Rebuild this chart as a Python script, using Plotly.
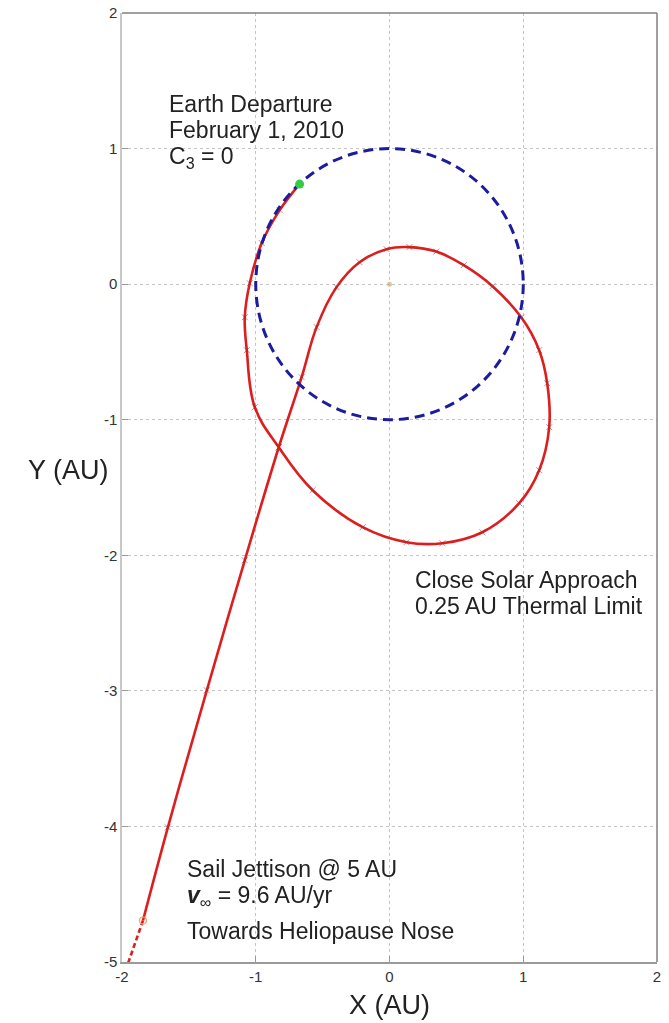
import plotly.graph_objects as go

# ---------------- data (AU) ----------------
traj_x = [-0.672, -0.821, -0.955, -1.045, -1.082, -1.067, -1.007, -0.828, -0.575,
          -0.201, 0.127, 0.396, 0.694, 0.970, 1.119, 1.194, 1.179, 1.119, 0.985,
          0.770, 0.555, 0.350, 0.149, -0.022, -0.224, -0.396, -0.545, -0.657,
          -0.828, -1.082, -1.366, -1.657, -1.843]
traj_y = [0.738, 0.546, 0.303, 0.007, -0.244, -0.487, -0.908, -1.203, -1.520,
          -1.793, -1.904, -1.911, -1.830, -1.616, -1.373, -1.055, -0.731, -0.487,
          -0.245, -0.015, 0.140, 0.240, 0.273, 0.258, 0.162, -0.022, -0.317, -0.686,
          -1.203, -2.037, -2.996, -4.007, -4.694]

coast_x = [-1.843, -1.955]
coast_y = [-4.694, -5.010]

earth_orbit_radius = 1.0
departure = (-0.672, 0.738)
jettison = (-1.843, -4.694)
sun = (0.0, 0.0)

x_ticks = [-2, -1, 0, 1, 2]
x_tick_labels = ["-2", "-1", "0", "1", "2"]
y_ticks = [-5, -4, -3, -2, -1, 0, 1, 2]
y_tick_labels = ["-5", "-4", "-3", "-2", "-1", "0", "1", "2"]

label_departure = ["Earth Departure", "February 1, 2010", "C<sub>3</sub> = 0"]
label_approach = ["Close Solar Approach", "0.25 AU Thermal Limit"]
label_jettison = ["Sail Jettison @ 5 AU", "<b><i>v</i></b><sub>∞</sub> = 9.6 AU/yr",
                  "Towards Heliopause Nose"]

# ---------------- figure ----------------
RED = "#dc1e1e"
BLUE = "#1c1c9e"
TXT = "#222222"
FONT = "Liberation Sans, Arial, sans-serif"

fig = go.Figure()

# Earth orbit (dashed circle)
fig.add_shape(type="circle", xref="x", yref="y",
              x0=-earth_orbit_radius, y0=-earth_orbit_radius,
              x1=earth_orbit_radius, y1=earth_orbit_radius,
              line=dict(color=BLUE, width=3, dash="10px,6px"), layer="above")

# trajectory
fig.add_trace(go.Scatter(x=traj_x, y=traj_y, mode="lines",
                         line=dict(color=RED, width=2.6, shape="spline", smoothing=1.1),
                         hoverinfo="skip", showlegend=False))
# time tick marks
fig.add_trace(go.Scatter(x=traj_x[1:-1], y=traj_y[1:-1], mode="markers",
                         marker=dict(symbol="x-thin", size=6,
                                     line=dict(color="#8a3030", width=1)),
                         opacity=0.55, hoverinfo="skip", showlegend=False))
# coast after jettison
fig.add_trace(go.Scatter(x=coast_x, y=coast_y, mode="lines",
                         line=dict(color=RED, width=2.6, dash="5px,3px"),
                         hoverinfo="skip", showlegend=False))
# sun
fig.add_trace(go.Scatter(x=[sun[0]], y=[sun[1]], mode="markers",
                         marker=dict(size=5, color="#d8b070", opacity=0.7),
                         hoverinfo="skip", showlegend=False))
# jettison point
fig.add_trace(go.Scatter(x=[jettison[0]], y=[jettison[1]], mode="markers",
                         marker=dict(size=7, symbol="circle-open",
                                     line=dict(color="#777777", width=1.2)),
                         hoverinfo="skip", showlegend=False))

# departure point (drawn above the orbit circle)
fig.add_shape(type="circle", xref="x", yref="y", xsizemode="pixel", ysizemode="pixel",
              xanchor=departure[0], yanchor=departure[1],
              x0=-4.5, x1=4.5, y0=-4.5, y1=4.5,
              fillcolor="#33cc44", line=dict(color="#33cc44", width=0), layer="above")

# text annotations (one per line)
def add_lines(lines, x, ys):
    for t, y in zip(lines, ys):
        fig.add_annotation(x=x, y=y, xref="x", yref="y", text=t, showarrow=False,
                           xanchor="left", yanchor="middle",
                           font=dict(family=FONT, size=23, color=TXT))

add_lines(label_departure, -1.664, [1.330, 1.135, 0.935])
add_lines(label_approach, 0.172, [-2.185, -2.375])
add_lines(label_jettison, -1.530, [-4.312, -4.515, -4.768])

# axis titles
fig.add_annotation(text="Y (AU)", x=(68 - 122) / 535, y=(962 - 470) / 949,
                   xref="paper", yref="paper", xanchor="center", yanchor="middle",
                   showarrow=False, font=dict(family=FONT, size=27, color=TXT))
fig.add_annotation(text="X (AU)", x=0.5, y=(962 - 1005) / 949,
                   xref="paper", yref="paper", xanchor="center", yanchor="middle",
                   showarrow=False, font=dict(family=FONT, size=27, color=TXT))

# frame: top & right darker lines
fig.add_shape(type="line", xref="paper", yref="paper", x0=0, x1=1, y0=1, y1=1,
              line=dict(color="#808080", width=1.5))
fig.add_shape(type="line", xref="paper", yref="paper", x0=1, x1=1, y0=0, y1=1,
              line=dict(color="#808080", width=1.5))

axis_common = dict(showgrid=True, gridcolor="#c4c4c4", griddash="dot", gridwidth=1,
                   zeroline=False, showline=True, ticks="inside", ticklen=6,
                   tickcolor="#999999", automargin=False,
                   tickfont=dict(family=FONT, size=15, color="#333333"))

fig.update_layout(
    width=669, height=1023,
    margin=dict(l=122, r=12, t=13, b=61),
    paper_bgcolor="white", plot_bgcolor="white",
    xaxis=dict(range=[-2, 2], tickvals=x_ticks, ticktext=x_tick_labels,
               linecolor="#9a9a9a", linewidth=1.5, **axis_common),
    yaxis=dict(range=[-5, 2], tickvals=y_ticks, ticktext=y_tick_labels,
               linecolor="#c8c8c8", linewidth=1.5, **axis_common),
    showlegend=False,
)

fig.write_html("out.html")
